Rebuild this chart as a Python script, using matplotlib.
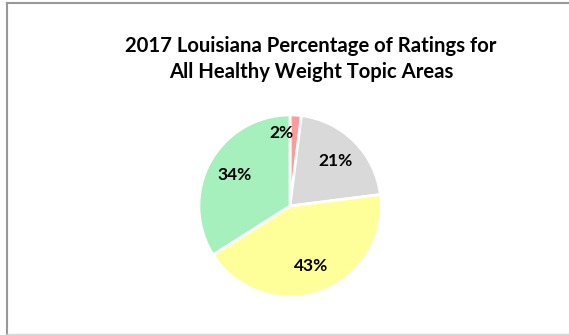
import matplotlib
matplotlib.use("Agg")
import numpy as np
from matplotlib import pyplot as plt
from matplotlib.lines import Line2D

title = "2017 Louisiana Percentage of Ratings for\nAll Healthy Weight Topic Areas"
values = [2, 21, 43, 34]
colors = ["#FF9B9B", "#D9D9D9", "#FFFF99", "#A6F0BE"]

plt.rcParams['font.family'] = ['Lato', 'DejaVu Sans']

fig = plt.figure(figsize=(5.69, 3.35), dpi=100)

# pie area: center ~ (290, 206) px, radius ~ 92 px
W, H = 569, 335
r = 92
cx, cy = 290, 206
ax = fig.add_axes([(cx - r) / W, (H - cy - r) / H, 2 * r / W, 2 * r / H])

wedges, texts, autotexts = ax.pie(
    values, colors=colors, startangle=90, counterclock=False,
    autopct='%1.0f%%', pctdistance=0.7,
    wedgeprops=dict(edgecolor='white', linewidth=2),
    textprops=dict(fontsize=12.5, fontweight='bold', color='black'))
ax.set_aspect('equal')
ax.set_xlim(-1.01, 1.01)
ax.set_ylim(-1.01, 1.01)

# small slice label nudged left of the slice, like the original
autotexts[0].set_position((-0.09, 0.80))

fig.text(311 / W, 1 - 59 / H, title, ha='center', va='center',
         fontsize=14.6, fontweight='bold', linespacing=1.4)

# chart border (left, top, bottom)
fig.add_artist(Line2D([6.5 / W, 6.5 / W], [0.5 / H, 1 - 2.5 / H], color='#999999', lw=1.5, transform=fig.transFigure))
fig.add_artist(Line2D([6.5 / W, 1], [1 - 2.5 / H, 1 - 2.5 / H], color='#999999', lw=1.5, transform=fig.transFigure))
fig.add_artist(Line2D([6.5 / W, 1], [1.5 / H, 1.5 / H], color='#d9d9d9', lw=1, transform=fig.transFigure))

fig.savefig("out.png", dpi=100)
